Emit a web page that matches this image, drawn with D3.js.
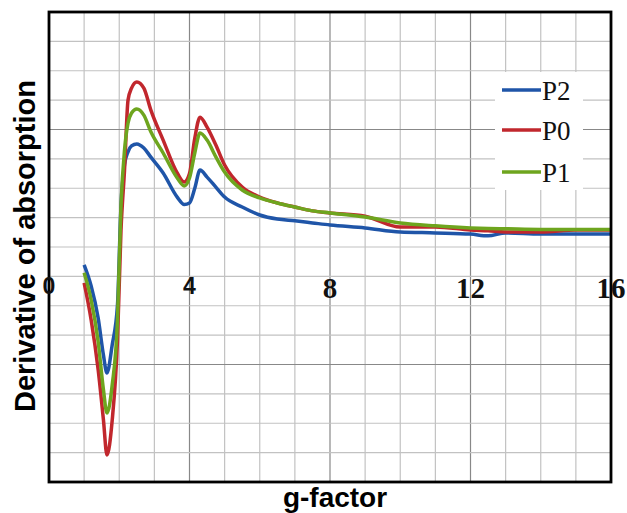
<!DOCTYPE html>
<html>
<head>
<meta charset="utf-8">
<script src="https://d3js.org/d3.v7.min.js"></script>
<style>
  body { margin: 0; background: #fff; }
  svg { display: block; }
</style>
</head>
<body>
<svg id="chart" width="627" height="513"></svg>
<script>
// g-factor sample positions shared by all three spectra
const gFactor = [1.0, 1.2, 1.4, 1.55, 1.65, 1.8, 1.95, 2.05, 2.15, 2.25, 2.35, 2.5, 2.7, 2.9, 3.25, 3.65, 3.85, 4.0, 4.15, 4.3,
                 4.5, 4.75, 5.0, 5.5, 6, 6.5, 7, 7.5, 8, 9, 10, 11, 12, 12.5, 13, 14, 15, 16];

const p2 = [0.39, -0.33, -1.42, -2.68, -3.29, -2.33, -0.97, 2.43, 3.8, 4.24, 4.44, 4.51, 4.37, 4.06, 3.52, 2.7, 2.45, 2.5, 3.0, 3.62,
            3.38, 3.04, 2.70, 2.36, 2.09, 1.95, 1.89, 1.82, 1.75, 1.65, 1.51, 1.48, 1.44, 1.38, 1.48, 1.44, 1.44, 1.44];
const p0 = [-0.22, -1.48, -3.18, -4.89, -6.08, -4.89, -2.16, 1.58, 3.62, 6.0, 6.41, 6.62, 6.41, 5.66, 4.64, 3.52, 3.21, 3.5, 4.7, 5.42,
            5.08, 4.47, 3.79, 3.04, 2.70, 2.50, 2.36, 2.23, 2.16, 2.05, 1.68, 1.68, 1.58, 1.55, 1.51, 1.51, 1.58, 1.58];
const p1 = [0.12, -0.80, -2.23, -3.86, -4.65, -3.69, -1.48, 2.43, 4.3, 5.22, 5.56, 5.70, 5.49, 4.92, 4.20, 3.35, 3.08, 3.35, 4.2, 4.88,
            4.64, 4.07, 3.55, 2.94, 2.67, 2.50, 2.36, 2.23, 2.16, 2.02, 1.82, 1.72, 1.65, 1.63, 1.62, 1.60, 1.60, 1.60];

const seriesNames = ["P2", "P0", "P1"];
const seriesColors = ["#1f55a8", "#c1272d", "#6ea51e"];
const seriesValues = [p2, p0, p1];

const xTicks = [0, 4, 8, 12, 16];
const xMajor = [4, 8, 12];
const yMajor = [5, -3];

const svg = d3.select("#chart");
const plotLeft = 49, plotRight = 611, plotTop = 12, plotBottom = 482;

const x = d3.scaleLinear().domain([0, 16]).range([plotLeft, plotRight]);
const y = d3.scaleLinear().domain([-7, 9]).range([plotBottom, plotTop]);

// grid
const grid = svg.append("g");
grid.selectAll(".vx").data(d3.range(1, 16)).join("line")
  .attr("x1", d => x(d)).attr("x2", d => x(d))
  .attr("y1", plotTop).attr("y2", plotBottom)
  .attr("stroke", d => xMajor.includes(d) ? "#888" : "#c2c2c2")
  .attr("stroke-width", 1.2);
grid.selectAll(".hy").data(d3.range(-6, 9)).join("line")
  .attr("x1", plotLeft).attr("x2", plotRight)
  .attr("y1", d => y(d)).attr("y2", d => y(d))
  .attr("stroke", d => yMajor.includes(d) ? "#888" : "#c2c2c2")
  .attr("stroke-width", 1.2);

// spectra
const line = d3.line()
  .x((d, i) => x(gFactor[i]))
  .y(d => y(d))
  .curve(d3.curveMonotoneX);

svg.append("g").selectAll("path").data(seriesValues).join("path")
  .attr("d", d => line(d))
  .attr("fill", "none")
  .attr("stroke", (d, i) => seriesColors[i])
  .attr("stroke-width", 3.5)
  .attr("stroke-linejoin", "round");

// legend
const legend = svg.append("g");
legend.append("rect")
  .attr("x", 495).attr("y", 72).attr("width", 88).attr("height", 118)
  .attr("fill", "#fff");
const legendY = [90, 130, 172];
legend.selectAll("line").data(seriesNames).join("line")
  .attr("x1", 502).attr("x2", 541)
  .attr("y1", (d, i) => legendY[i]).attr("y2", (d, i) => legendY[i])
  .attr("stroke", (d, i) => seriesColors[i])
  .attr("stroke-width", 3.5);
legend.selectAll("text").data(seriesNames).join("text")
  .attr("x", 542)
  .attr("y", (d, i) => legendY[i] + 10)
  .attr("font-family", "Liberation Serif, Times New Roman, serif")
  .attr("font-size", 27)
  .attr("fill", "#111")
  .text(d => d);

// frame
svg.append("rect")
  .attr("x", plotLeft).attr("y", plotTop)
  .attr("width", plotRight - plotLeft).attr("height", plotBottom - plotTop)
  .attr("fill", "none").attr("stroke", "#000").attr("stroke-width", 2.8);

// tick labels sit on the zero line, drawn over the frame
svg.append("g").selectAll("text").data(xTicks).join("text")
  .attr("x", d => x(d))
  .attr("y", d => d < 8 ? 294 : 298)
  .attr("text-anchor", "middle")
  .attr("font-family", d => d < 8 ? "Liberation Sans, Arial, sans-serif" : "Liberation Serif, Times New Roman, serif")
  .attr("font-weight", "bold")
  .attr("font-size", d => d < 8 ? 23 : 29)
  .attr("fill", "#111")
  .text(d => d);

// axis titles
svg.append("text")
  .attr("x", 335).attr("y", 507)
  .attr("text-anchor", "middle")
  .attr("font-family", "Liberation Sans, Arial, sans-serif")
  .attr("font-weight", "bold").attr("font-size", 28)
  .text("g-factor");
svg.append("text")
  .attr("transform", "translate(35,246) rotate(-90)")
  .attr("text-anchor", "middle")
  .attr("font-family", "Liberation Sans, Arial, sans-serif")
  .attr("font-weight", "bold").attr("font-size", 29)
  .text("Derivative of absorption");
</script>
</body>
</html>
